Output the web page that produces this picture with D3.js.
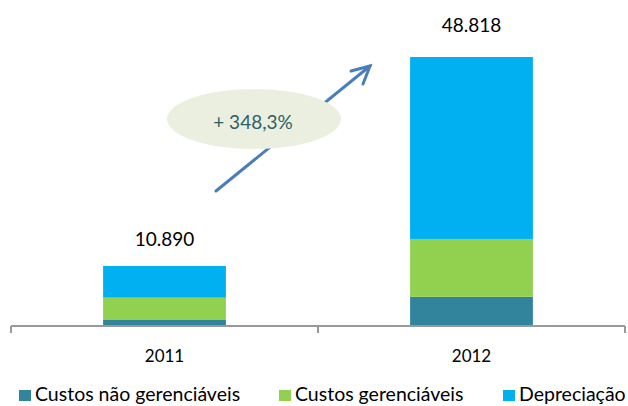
<!DOCTYPE html>
<html>
<head>
<meta charset="utf-8">
<script src="https://cdn.jsdelivr.net/npm/d3@7"></script>
<style>
  body { margin: 0; background: #fff; }
  text { font-family: Lato, "Open Sans", sans-serif; fill: #000; }
</style>
</head>
<body>
<svg id="chart" width="628" height="406"></svg>
<script>
// chart data
const years = ['2011', '2012'];
const seriesNames = ['Custos não gerenciáveis', 'Custos gerenciáveis', 'Depreciação'];
const naoGerenciaveis = [1090, 5300];
const gerenciaveis = [4050, 10500];
const depreciacao = [5750, 33018];
const totalLabels = ['10.890', '48.818'];
const growthLabel = '+ 348,3%';

const colors = ['#31849b', '#92d050', '#00b0f0'];

const svg = d3.select('#chart');

const x = d3.scaleBand()
  .domain(years)
  .range([11, 625]);

const y = d3.scaleLinear()
  .domain([0, 48818])
  .range([326, 57]);

const rows = years.map((yr, i) => ({
  year: yr,
  s0: naoGerenciaveis[i],
  s1: gerenciaveis[i],
  s2: depreciacao[i]
}));

const stack = d3.stack().keys(['s0', 's1', 's2']);
const layers = stack(rows);

const barW = x.bandwidth() * 0.4;

svg.append('g')
  .selectAll('g')
  .data(layers)
  .join('g')
  .attr('fill', (d, i) => colors[i])
  .selectAll('rect')
  .data(d => d)
  .join('rect')
  .attr('x', d => x(d.data.year) + (x.bandwidth() - barW) / 2)
  .attr('width', barW)
  .attr('y', d => y(d[1]))
  .attr('height', d => y(d[0]) - y(d[1]));

// axis
const axis = svg.append('g').attr('transform', 'translate(0,326)');
axis.append('line')
  .attr('x1', 11).attr('x2', 625)
  .attr('stroke', '#999').attr('stroke-width', 2);
const tickXs = [11, ...years.map(d => x(d) + x.bandwidth())];
axis.selectAll('.tick')
  .data(tickXs)
  .join('line')
  .attr('x1', d => d).attr('x2', d => d)
  .attr('y1', 0).attr('y2', 7)
  .attr('stroke', '#999').attr('stroke-width', 2);

axis.selectAll('.year')
  .data(years)
  .join('text')
  .attr('x', d => x(d) + x.bandwidth() / 2)
  .attr('y', 36)
  .attr('text-anchor', 'middle')
  .attr('font-size', 17)
  .text(d => d);

// totals (the taller bar's label sits a little higher)
svg.selectAll('.total')
  .data(rows)
  .join('text')
  .attr('x', d => x(d.year) + x.bandwidth() / 2)
  .attr('y', (d, i) => y(d.s0 + d.s1 + d.s2) - 20 - 5 * i)
  .attr('text-anchor', 'middle')
  .attr('font-size', 19)
  .text((d, i) => totalLabels[i]);

// growth arrow
const arrowColor = '#4a7ebb';
const arrow = svg.append('g')
  .attr('stroke', arrowColor)
  .attr('stroke-width', 3)
  .attr('fill', 'none')
  .attr('stroke-linecap', 'round');
arrow.append('line')
  .attr('x1', 216).attr('y1', 191)
  .attr('x2', 370).attr('y2', 66);
arrow.append('polyline')
  .attr('points', '351,71 370,66 363,84');

svg.append('ellipse')
  .attr('cx', 254).attr('cy', 119)
  .attr('rx', 87).attr('ry', 30)
  .attr('fill', '#ebefdf');

svg.append('text')
  .attr('x', 253).attr('y', 129)
  .attr('text-anchor', 'middle')
  .attr('font-size', 19)
  .style('fill', '#2e5f6b')
  .text(growthLabel);

// legend
const legendX = [19, 279, 503];
const legend = svg.append('g')
  .selectAll('g')
  .data(seriesNames)
  .join('g')
  .attr('transform', (d, i) => `translate(${legendX[i]},390)`);
legend.append('rect')
  .attr('width', 12).attr('height', 11)
  .attr('fill', (d, i) => colors[i]);
legend.append('text')
  .attr('x', 16).attr('y', 11)
  .attr('font-size', 19.5)
  .text(d => d);
</script>
</body>
</html>
